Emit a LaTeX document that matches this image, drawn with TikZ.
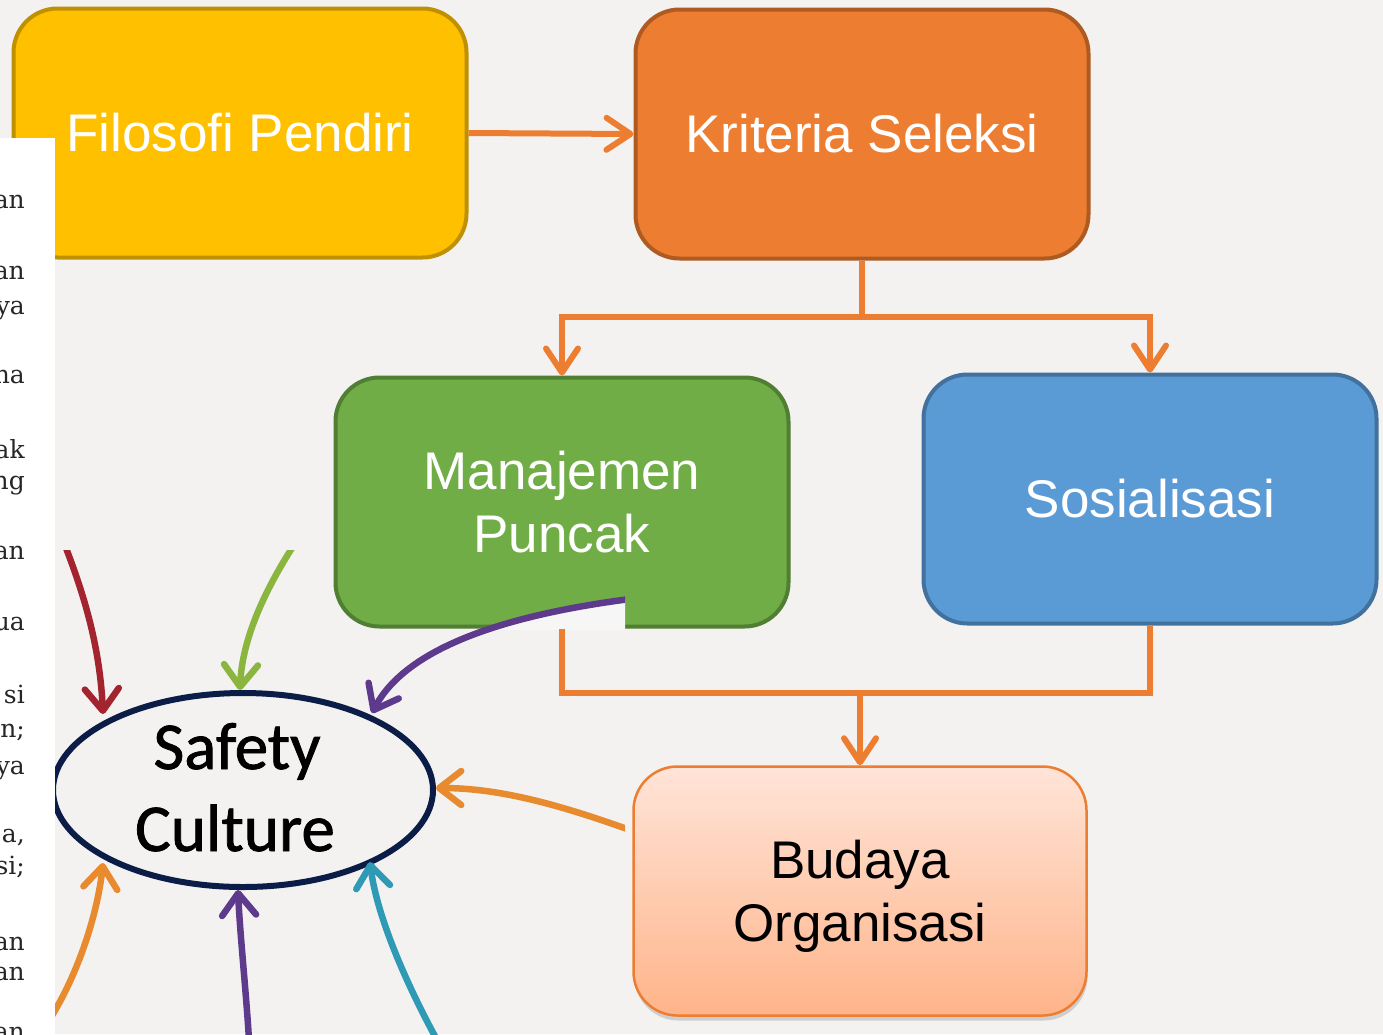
\documentclass[tikz,border=0pt]{standalone}
\usepackage{fontspec}
\newfontfamily\arialf{Liberation Sans}
\newfontfamily\carl[FakeBold=1.2]{Carlito}
\newfontfamily\stripf{DejaVu Serif}
\usetikzlibrary{arrows.meta,shapes.geometric,shadows}
\definecolor{bgc}{HTML}{F3F2F1}
\definecolor{fragbg}{HTML}{F7F6F6}
\definecolor{yelfill}{HTML}{FFC000}
\definecolor{yelline}{HTML}{BF9000}
\definecolor{orfill}{HTML}{ED7D31}
\definecolor{orline}{HTML}{AE5A21}
\definecolor{grfill}{HTML}{70AD47}
\definecolor{grline}{HTML}{507E32}
\definecolor{blfill}{HTML}{5B9BD5}
\definecolor{blline}{HTML}{41719C}
\definecolor{budtop}{HTML}{FFE4D8}
\definecolor{budbot}{HTML}{FFB48A}
\definecolor{conncol}{HTML}{ED7D31}
\definecolor{ellcol}{HTML}{0B1D46}
\definecolor{scred}{HTML}{A3232F}
\definecolor{scgreen}{HTML}{8AB53E}
\definecolor{scpurple}{HTML}{5E3A8C}
\definecolor{scorange}{HTML}{E88A2E}
\definecolor{scteal}{HTML}{2E9AB5}
\tikzset{
  box/.style={draw, rounded corners=44pt, line width=4pt, minimum width=453pt,
    minimum height=249pt, inner sep=0pt, align=center,
    font=\arialf\fontsize{53}{63}\selectfont, text=white},
  conn/.style={draw=conncol, line width=6pt},
  arr/.style={-{Straight Barb[length=24pt,width=32pt,round]}},
  scarr/.style={line width=6.5pt, -{Straight Barb[length=22pt,width=34pt,round]}},
  striptext/.style={anchor=mid east, inner sep=0pt, font=\stripf\fontsize{25}{30}\selectfont, text=black!85}
}
\begin{document}
\begin{tikzpicture}[x=1pt,y=-1pt]
\useasboundingbox (0,0) rectangle (1383,1034);
\fill[bgc] (0,0) rectangle (1383,1034);

% flow boxes
\node[box, fill=yelfill, draw=yelline] (fil) at (240,133) {Filosofi Pendiri};
\node[box, fill=orfill, draw=orline] (kri) at (862,134) {Kriteria Seleksi};
\node[box, fill=grfill, draw=grline] (mgmt) at (562,502) {Manajemen\\Puncak};
\node[box, fill=blfill, draw=blline] (sos) at (1150,499) {Sosialisasi};
\node[box, line width=2.5pt, draw=conncol, top color=budtop, bottom color=budbot,
  drop shadow={shadow xshift=1pt, shadow yshift=-5pt, opacity=0.25, fill=black!60}]
  (bud) at (860,891) {};
\node[align=center, inner sep=0pt, font=\arialf\fontsize{53}{63}\selectfont, text=black]
  (budtxt) at (860,896) {Budaya\\Organisasi};

% safety culture fragment
\begin{scope}
  \clip (55,550) rectangle (625,1034);
  \begin{scope}
    \clip (460,590) rectangle (625,629);
    \fill[fragbg] (630,599) .. controls (530,612) and (410,640) .. (372,713) -- (630,713) -- cycle;
  \end{scope}
  \node[ellipse, draw=ellcol, line width=6pt, minimum width=380pt, minimum height=194pt, inner sep=0pt] (sc) at (243,790) {};
  \node[anchor=base, inner sep=0pt, font=\carl\fontsize{67}{80}\selectfont] (scA) at (237,769) {Safety};
  \node[anchor=base, inner sep=0pt, font=\carl\fontsize{67}{80}\selectfont] (scB) at (235,851) {Culture};
  \coordinate (r0) at (66,548);   \coordinate (r1) at (103,714);
  \coordinate (g0) at (292,548);  \coordinate (g1) at (240,690);
  \coordinate (p0) at (630,599);  \coordinate (p1) at (372,713);
  \coordinate (o0) at (630,830);  \coordinate (o1) at (436,788);
  \coordinate (t0) at (437,1040); \coordinate (t1) at (370,862);
  \coordinate (q0) at (249,1040); \coordinate (q1) at (238,890);
  \coordinate (l0) at (48,1022);  \coordinate (l1) at (103,863);
  \draw[scarr, scred] (r0) .. controls (86,600) and (100,650) .. (r1);
  \draw[scarr, scgreen] (g0) .. controls (264,592) and (242,640) .. (g1);
  \draw[scarr, scpurple] (p0) .. controls (530,612) and (410,640) .. (p1);
  \draw[scarr, scorange] (o0) .. controls (560,805) and (500,788) .. (o1);
  \draw[scarr, scteal] (t0) .. controls (400,972) and (376,910) .. (t1);
  \draw[scarr, scpurple] (q0) .. controls (246,990) and (240,935) .. (q1);
  \draw[scarr, scorange] (l0) .. controls (80,972) and (98,910) .. (l1);
\end{scope}

% connectors
\draw[conn, arr] (fil.east) -- (kri.west);
\coordinate (j1) at (kri.south |- 0,317);
\draw[conn, arr] (kri.south) -- (j1) -| (mgmt.north);
\draw[conn, arr] (j1) -| (sos.north);
\coordinate (j2) at (bud.north |- 0,693);
\draw[conn] (mgmt.south) |- (j2) -| (sos.south);
\draw[conn, arr] (j2) -- (bud.north);

% white text strip
\fill[white] (0,138) rectangle (55,1034);
\foreach \yy/\tt [count=\i] in {206/an, 277/an, 312/ya, 381/na, 456/ak, 487/ng, 557/an, 628/ua,
   701/si, 735/{n;}, 772/ya, 840/{a,}, 872/{si;}, 948/an, 978/an, 1038/an}
  \node[striptext] (st\i) at (25,\yy) {\tt};
\end{tikzpicture}
\end{document}
